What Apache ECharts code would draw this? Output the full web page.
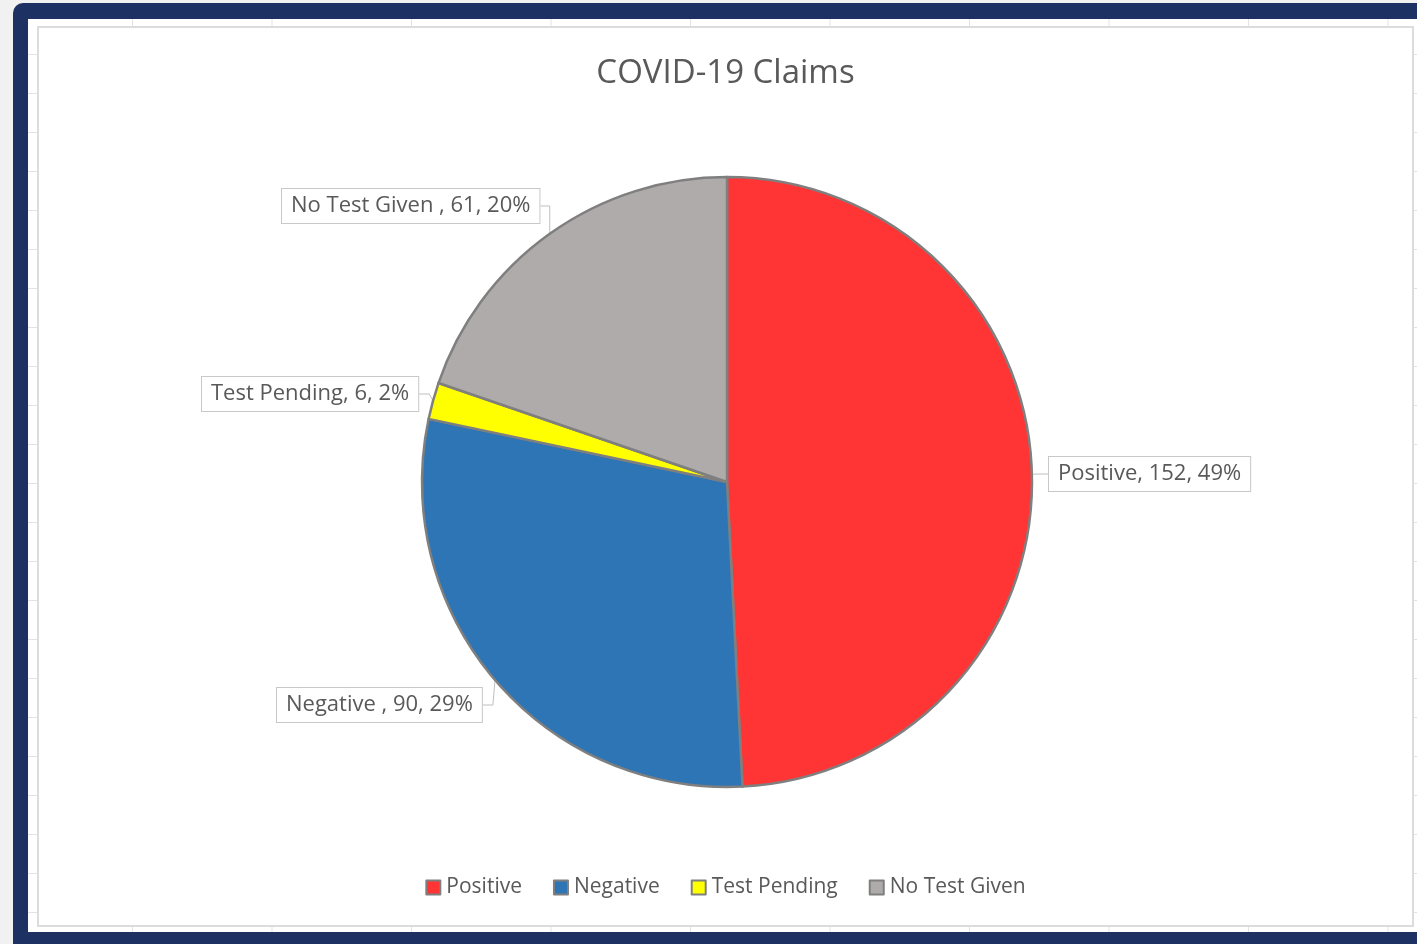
<!DOCTYPE html>
<html>
<head>
<meta charset="utf-8">
<script src="https://cdn.jsdelivr.net/npm/echarts@6/dist/echarts.min.js"></script>
<style>
  html, body { margin: 0; padding: 0; width: 1417px; height: 944px; overflow: hidden; background: #f1f1f1; }
  #frame { position: absolute; left: 13px; top: 3px; width: 1430px; height: 960px; background: #1e3163; border-radius: 10px; }
  #sheet { position: absolute; left: 28px; top: 19px; width: 1389px; height: 913px; background-color: #fff;
    background-image:
      linear-gradient(to right, #e3e3e3 1px, transparent 1px),
      linear-gradient(to bottom, #e3e3e3 1px, transparent 1px);
    background-size: 139.5px 39px;
    background-position: 104px 35px;
  }
  #chart { position: absolute; left: 37px; top: 26px; width: 1373px; height: 897px; background: #fff; border: 2px solid #dcdcdc; }
</style>
</head>
<body>
<div id="frame"></div>
<div id="sheet"></div>
<div id="chart"></div>
<script>
const titleText = 'COVID-19 Claims';
const categories = ['Positive', 'Negative', 'Test Pending', 'No Test Given'];
const labelNames = ['Positive', 'Negative ', 'Test Pending', 'No Test Given '];
const values = [152, 90, 6, 61];
const percents = ['49%', '29%', '2%', '20%'];
const colors = ['#ff3535', '#2e75b6', '#ffff00', '#afabab'];

// label box placement (chart px), by slice index
const labelPos = [
  { x: 1010, y: 446 },
  { x: 238, y: 677 },
  { x: 163, y: 366 },
  { x: 243, y: 178 }
];

const chart = echarts.init(document.getElementById('chart'), null, { renderer: 'canvas' });
const font = '"Open Sans", Lato, sans-serif';
chart.setOption({
  animation: false,
  backgroundColor: '#fff',
  title: {
    text: titleText,
    left: 'center',
    top: 24,
    textStyle: { fontSize: 33, fontWeight: 'normal', color: '#595959', fontFamily: font }
  },
  legend: {
    bottom: 22,
    left: 'center',
    icon: 'rect',
    itemWidth: 14,
    itemHeight: 14,
    itemGap: 31,
    textStyle: { fontSize: 21, color: '#595959', fontFamily: font, padding: [0, 0, 0, 1] },
    data: categories
  },
  series: [{
    type: 'pie',
    center: [688, 454],
    radius: 305,
    startAngle: 90,
    clockwise: true,
    data: categories.map((c, i) => ({ name: c, value: values[i], itemStyle: { color: colors[i] } })),
    itemStyle: { borderColor: '#7f7f7f', borderWidth: 2.5 },
    label: {
      show: true,
      formatter: p => labelNames[p.dataIndex] + ', ' + values[p.dataIndex] + ', ' + percents[p.dataIndex],
      fontSize: 22,
      color: '#595959',
      fontFamily: font,
      backgroundColor: '#fff',
      borderColor: '#c8c8c8',
      borderWidth: 1,
      padding: [7, 9, 5, 9]
    },
    labelLine: { show: true, lineStyle: { color: '#bfbfbf', width: 1 }, length: 10, length2: 10 },
    labelLayout: function (params) {
      const p = labelPos[params.dataIndex];
      return { x: p.x, y: p.y, align: 'left', verticalAlign: 'middle' };
    },
    emphasis: { disabled: true }
  }]
});
</script>
</body>
</html>
